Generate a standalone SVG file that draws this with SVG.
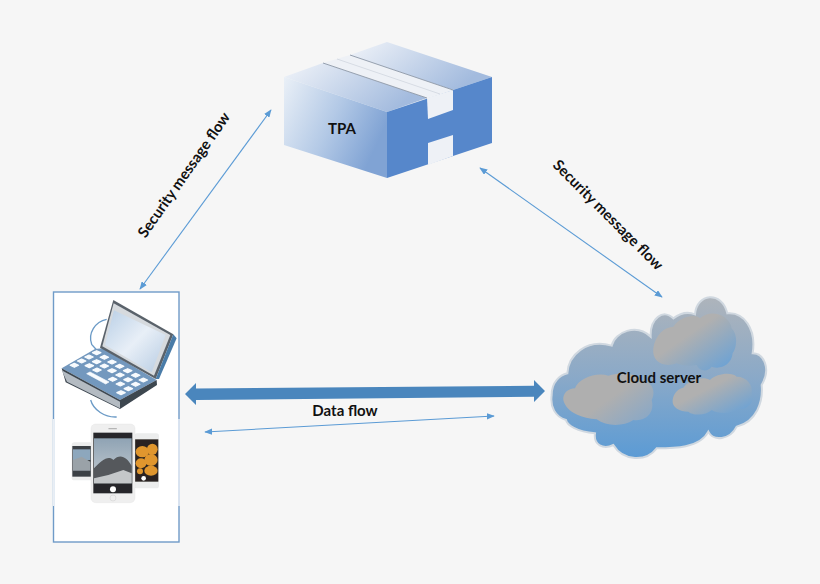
<svg xmlns="http://www.w3.org/2000/svg" xmlns:xlink="http://www.w3.org/1999/xlink" width="820" height="584" viewBox="0 0 820 584">
<style>
text{font-family:"Lato","Open Sans","Liberation Sans",sans-serif;font-weight:700;fill:#111;text-anchor:middle}
.lbl{font-size:15px}
.thin{fill:none;stroke:#5b9bd5;stroke-width:1.1;marker-start:url(#ah);marker-end:url(#ah)}
.key{fill:#f8fbfe;stroke:#f8fbfe;stroke-width:2;stroke-linejoin:round}
</style>
<defs>
<marker id="ah" viewBox="0 0 10 8" refX="9" refY="4" markerUnits="userSpaceOnUse" markerWidth="8" markerHeight="6.4" orient="auto-start-reverse"><path d="M0 0L10 4L0 8Z" fill="#5b9bd5"/></marker>
<filter id="soft" x="-5%" y="-5%" width="110%" height="110%"><feGaussianBlur stdDeviation="0.5"/></filter>
<linearGradient id="boxTop" x1="0" y1="0" x2="1" y2="0.4"><stop offset="0" stop-color="#f1f4f9"/><stop offset="1" stop-color="#a3bbde"/></linearGradient>
<linearGradient id="boxFront" x1="0" y1="0" x2="1" y2="0.45"><stop offset="0" stop-color="#eaf0f7"/><stop offset="0.55" stop-color="#b3c9e6"/><stop offset="1" stop-color="#80a3d4"/></linearGradient>
<linearGradient id="cloudFill" x1="0" y1="0" x2="0" y2="1"><stop offset="0" stop-color="#aeb4bb"/><stop offset="0.5" stop-color="#8aa9c8"/><stop offset="1" stop-color="#5b9bd5"/></linearGradient>
<linearGradient id="puff" x1="0" y1="0" x2="1" y2="1"><stop offset="0.4" stop-color="#b0b0b0"/><stop offset="1" stop-color="#62a0da"/></linearGradient>
<linearGradient id="puffL" x1="0" y1="0" x2="1" y2="0.8"><stop offset="0.55" stop-color="#afafaf"/><stop offset="1" stop-color="#8aa8c6"/></linearGradient>
<linearGradient id="screenG" x1="0" y1="0" x2="1" y2="1"><stop offset="0" stop-color="#b9cfe6"/><stop offset="0.5" stop-color="#e8eff7"/><stop offset="1" stop-color="#b6cbe2"/></linearGradient>
<linearGradient id="sky" x1="0" y1="0" x2="0" y2="1"><stop offset="0" stop-color="#8fa3b4"/><stop offset="1" stop-color="#c7cdd2"/></linearGradient>
<path id="k" class="key" d="M-7 0L0 -3.300L7 0L0 3.300Z"/>
</defs>
<rect width="820" height="584" fill="#f6f6f6"/>

<g id="connectors">
<line class="thin" x1="271" y1="110" x2="140" y2="289"/>
<line class="thin" x1="480" y1="168" x2="662" y2="297"/>
<line class="thin" x1="205" y1="432" x2="494" y2="416"/>
<path d="M185 394L196 383V388.500L534 385.700V380L545 391L534 402V396.700L196 400V405Z" fill="#4a86bd"/>
</g>

<g id="tpa">
<path d="M284 77L323 63L427 98L387 112Z" fill="url(#boxTop)"/>
<path d="M350 55L387 42L492 77L453 90Z" fill="url(#boxTop)"/>
<path d="M284 77L387 112V178L284 145Z" fill="url(#boxFront)"/>
<path d="M387 112L492 77V143L387 178Z" fill="#5687cb"/>
<path d="M323 63L350 55L453 90L427 98Z" fill="#eef1f6"/>
<path d="M427 98L453 90V110L428 119Z" fill="#eef1f6"/>
<path d="M428 143L453 135V156L428 165Z" fill="#eef1f6"/>
<path d="M323 63L427 98M350 55L453 90" fill="none" stroke="#8b96a6" stroke-width="0.9"/>
<path d="M337 59L440 94" fill="none" stroke="#c6ccd6" stroke-width="0.6"/>
<text x="342" y="134" font-size="15">TPA</text>
</g>

<g id="client">
<rect x="53.500" y="292" width="125.500" height="250" fill="#fff" stroke="#6f9bc8" stroke-width="1.400"/>
<path d="M53.500 419V506M179 419V506" stroke="#e9eef5" stroke-width="1.600" fill="none"/>
<g id="laptop" transform="translate(45 285) scale(.3333)" filter="url(#soft)">
<path d="M185 103C150 110 128 145 140 178L155 195" fill="none" stroke="#6b9ac6" stroke-width="4"/>
<path d="M137 345C145 375 180 398 215 396" fill="none" stroke="#6b9ac6" stroke-width="4"/>
<path d="M50 250L150 192L172 190L335 285L225 345Z" fill="#7398be"/>
<path d="M50 250L225 345L335 285L336 300L225 372L62 292Z" fill="#3d4650"/>
<path d="M50 256L225 350V370L66 290Z" fill="#b4bbc2"/>
<path d="M205 45L385 148L332 282L165 188Z" fill="#5a626b"/>
<path d="M385 148L395 160L342 282H332Z" fill="#4a7ba8"/>
<path d="M206 55L376 150L327 272L172 184Z" fill="#d6dade"/>
<path d="M207 76L362 150L320 262L180 180Z" fill="url(#screenG)"/>
<use href="#k" xlink:href="#k" transform="translate(155 203) scale(1.800)"/>
<use href="#k" xlink:href="#k" transform="translate(178 217) scale(1.800)"/>
<use href="#k" xlink:href="#k" transform="translate(201 231) scale(1.800)"/>
<use href="#k" xlink:href="#k" transform="translate(224 244) scale(1.800)"/>
<use href="#k" xlink:href="#k" transform="translate(248 257) scale(1.800)"/>
<use href="#k" xlink:href="#k" transform="translate(272 271) scale(1.800)"/>
<use href="#k" xlink:href="#k" transform="translate(295 285) scale(1.800)"/>
<use href="#k" xlink:href="#k" transform="translate(132 216) scale(1.800)"/>
<use href="#k" xlink:href="#k" transform="translate(155 230) scale(1.800)"/>
<use href="#k" xlink:href="#k" transform="translate(178 243) scale(1.800)"/>
<use href="#k" xlink:href="#k" transform="translate(201 257) scale(1.800)"/>
<use href="#k" xlink:href="#k" transform="translate(225 270) scale(1.800)"/>
<use href="#k" xlink:href="#k" transform="translate(249 284) scale(1.800)"/>
<use href="#k" xlink:href="#k" transform="translate(272 298) scale(1.800)"/>
<use href="#k" xlink:href="#k" transform="translate(110 228) scale(1.800)"/>
<use href="#k" xlink:href="#k" transform="translate(133 242) scale(1.800)"/>
<use href="#k" xlink:href="#k" transform="translate(156 255) scale(1.800)"/>
<use href="#k" xlink:href="#k" transform="translate(203 283) scale(1.800)"/>
<use href="#k" xlink:href="#k" transform="translate(226 297) scale(1.800)"/>
<use href="#k" xlink:href="#k" transform="translate(250 311) scale(1.800)"/>
<use href="#k" xlink:href="#k" transform="translate(88 241) scale(1.800)"/>
<use href="#k" xlink:href="#k" transform="translate(228 323) scale(1.800)"/>
<path class="key" d="M125 266L135 261L192 291L182 297Z"/>
</g>
<g id="phones" transform="translate(45 410) scale(.3333)" filter="url(#soft)">
<rect x="80" y="97" width="62" height="114" rx="8" fill="#eceded"/>
<rect x="82" y="108" width="56" height="92" fill="#3a3f44"/>
<rect x="84" y="118" width="52" height="32" fill="#8da7bd"/>
<path d="M84 150L110 140L136 155V182H84Z" fill="#9aa2a8"/>
<rect x="268" y="70" width="74" height="165" rx="8" fill="#eceded"/>
<rect x="270" y="88" width="70" height="127" fill="#2a2420"/>
<g fill="#e0962f"><ellipse cx="292" cy="125" rx="20" ry="17"/><ellipse cx="322" cy="118" rx="16" ry="17"/><ellipse cx="288" cy="160" rx="16" ry="15"/><ellipse cx="318" cy="150" rx="20" ry="18"/><ellipse cx="318" cy="182" rx="20" ry="15"/><circle cx="285" cy="184" r="9"/></g>
<circle cx="296" cy="205" r="7" fill="#fff"/>
<rect x="138" y="42" width="132" height="236" rx="14" fill="#efefef" stroke="#e2e2e2"/>
<rect x="145" y="68" width="117" height="182" fill="#26282b"/>
<rect x="147" y="85" width="113" height="135" fill="url(#sky)"/>
<path d="M147 175C170 150 190 135 205 150C225 130 245 140 260 168V220H147Z" fill="#54585c"/>
<path d="M147 205L190 195L235 180L260 190V220H147Z" fill="#c4c7c9"/>
<circle cx="204" cy="238" r="9" fill="#fff"/>
<circle cx="204" cy="264" r="9" fill="none" stroke="#d5d5d5" stroke-width="2"/>
<rect x="190" y="54" width="26" height="4" rx="2" fill="#b5b5b5"/>
</g>
</g>

<g id="cloud">
<g transform="translate(540 285) scale(.3333)">
<path d="M35 330C35 290 60 270 82 265C85 210 140 160 215 182C225 140 290 115 332 155C330 100 370 70 400 100C420 85 445 80 465 88C470 25 545 15 562 85C610 80 650 130 638 205C670 205 695 250 665 300C670 350 650 410 590 425C570 465 520 470 505 440C480 490 400 490 350 490C320 530 250 530 220 480C190 495 160 480 165 445C110 440 80 420 78 405C45 395 30 365 35 330Z" fill="url(#cloudFill)" stroke="#d0d8e0" stroke-width="6"/>
<path d="M70 345C68 325 85 310 105 310C115 280 170 260 205 272C240 262 285 262 300 285C335 285 350 320 335 345C345 380 320 410 280 405C250 425 200 425 170 403C130 400 80 385 70 345Z" fill="url(#puffL)"/>
<path d="M340 190C345 150 375 125 400 125C420 95 465 85 480 100C510 70 570 90 575 130C595 150 590 190 578 205C575 240 540 255 515 245C500 265 475 255 470 240C440 245 420 240 410 235C370 250 335 230 340 190Z" fill="url(#puff)"/>
<path d="M398 345C400 325 415 310 430 308C445 285 490 272 510 285C530 265 575 260 590 275C620 275 640 300 635 325C645 350 625 375 595 372C570 390 530 385 515 375C495 395 455 390 445 380C420 380 395 368 398 345Z" fill="url(#puff)"/>
</g>
<text x="659" y="383" font-size="15">Cloud server</text>
</g>

<g id="labels">
<text class="lbl" transform="translate(184 175) rotate(-55)" x="0" y="5">Security message flow</text>
<text class="lbl" transform="translate(608 215) rotate(45)" x="0" y="5">Security message flow</text>
<text class="lbl" x="345" y="416">Data flow</text>
</g>
</svg>
